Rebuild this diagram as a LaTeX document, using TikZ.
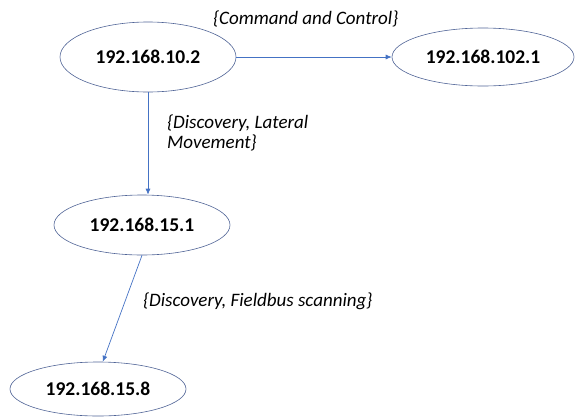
\documentclass[tikz,border=0pt]{standalone}
\usepackage{fontspec}
\setmainfont{Carlito}
\usetikzlibrary{shapes.geometric,arrows.meta}
\definecolor{edgeblue}{RGB}{68,114,196}
\definecolor{ellborder}{RGB}{80,100,150}
\begin{document}
\begin{tikzpicture}[x=1pt,y=-1pt,
  host/.style={ellipse,draw=ellborder,line width=0.6pt,inner sep=0pt,
    font=\fontsize{19.5}{23}\selectfont\bfseries},
  edgelabel/.style={inner sep=0pt,anchor=west,align=left,
    font=\fontsize{19}{20.5}\selectfont\itshape},
  conn/.style={draw=edgeblue,line width=0.7pt,-{Latex[length=6pt,width=5pt]}}]
\useasboundingbox (0,0) rectangle (576,416);
\node[host,minimum width=176pt,minimum height=70pt] (e1) at (148,57) {192.168.10.2};
\node[host,minimum width=182pt,minimum height=58pt] (e2) at (483,57) {192.168.102.1};
\node[host,minimum width=176pt,minimum height=60pt] (e3) at (142,225) {192.168.15.1};
\node[host,minimum width=176pt,minimum height=54pt] (e4) at (98,389) {192.168.15.8};
\draw[conn] (e1.east) -- (e2.west);
\draw[conn] (e1.south) -- (e1.south |- e3.north);
\draw[conn] (e3.south) -- (e4.80);
\node[edgelabel] (l1) at (213,19) {\{Command and Control\}};
\node[edgelabel] (l2) at (167,133) {\{Discovery, Lateral\\Movement\}};
\node[edgelabel] (l3) at (143,301) {\{Discovery, Fieldbus scanning\}};
\end{tikzpicture}
\end{document}
